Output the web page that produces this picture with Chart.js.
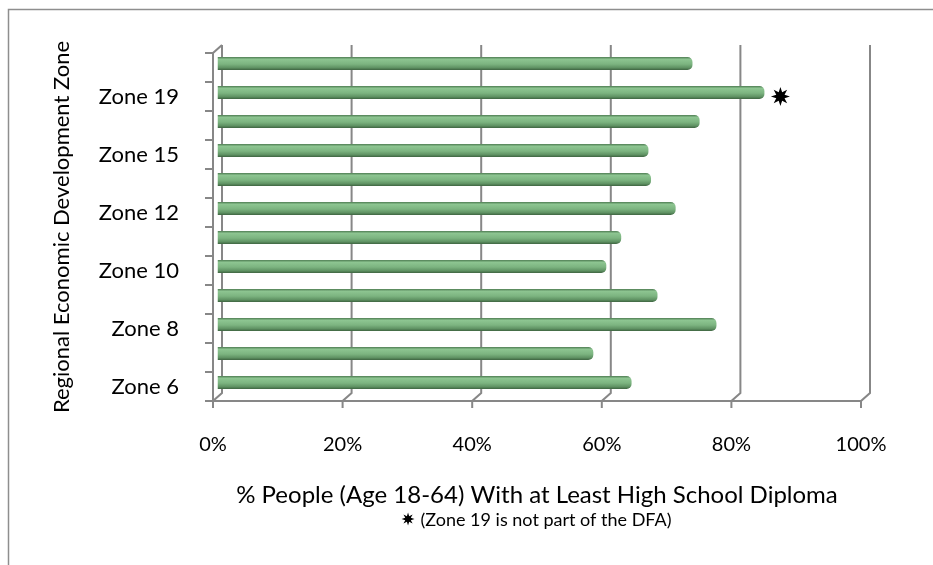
<!DOCTYPE html>
<html>
<head>
<meta charset="utf-8">
<script src="https://cdn.jsdelivr.net/npm/chart.js"></script>
<style>
  html, body { margin: 0; padding: 0; background: #fff; }
</style>
</head>
<body>
<canvas id="chart" width="933" height="565"></canvas>
<script>
// Zones listed bottom to top
const zones = ['Zone 6', 'Zone 7', 'Zone 8', 'Zone 9', 'Zone 10', 'Zone 11', 'Zone 12', 'Zone 14', 'Zone 15', 'Zone 16', 'Zone 19', 'Zone 20'];
const pctDiploma = [63.9, 58.0, 77.0, 67.9, 60.0, 62.3, 70.7, 66.9, 66.5, 74.4, 84.4, 73.3];
const xTicks = [0, 20, 40, 60, 80, 100];
const flaggedZone = 'Zone 19';
const xTitle = '% People (Age 18-64) With at Least High School Diploma';
const yTitle = 'Regional Economic Development Zone';
const footNote = '(Zone 19 is not part of the DFA)';

const FONT = 'Lato, "Liberation Sans", sans-serif';
const GRID = '#878787';
const BACK = { x: 9, y: -8 };      // back wall offset of the fake 3d box
const MID = { x: 4.5, y: -4 };     // bars sit half way in

function star(ctx, cx, cy, rOut, rIn) {
  ctx.beginPath();
  for (let i = 0; i < 16; i++) {
    const r = i % 2 ? rIn : rOut;
    const a = -Math.PI / 2 + i * Math.PI / 8;
    ctx.lineTo(cx + r * Math.cos(a), cy + r * Math.sin(a));
  }
  ctx.closePath();
  ctx.fill();
}

// walls, gridlines, axis ticks, star marks and the texts under the axis
const frame3d = {
  id: 'frame3d',
  beforeDraw(chart) {
    const { ctx } = chart;
    ctx.save();
    ctx.fillStyle = '#fff';
    ctx.fillRect(0, 0, chart.width, chart.height);
    ctx.strokeStyle = '#8e8e8e';
    ctx.lineWidth = 1.5;
    ctx.beginPath();
    ctx.moveTo(8.5, chart.height);
    ctx.lineTo(8.5, 9.5);
    ctx.lineTo(chart.width, 9.5);
    ctx.stroke();
    ctx.restore();
  },
  beforeDatasetsDraw(chart) {
    const { ctx, chartArea: a, scales: { x } } = chart;
    ctx.save();
    ctx.strokeStyle = GRID;
    ctx.lineWidth = 2;
    // back gridlines with the little slant down to the front axis
    xTicks.forEach(v => {
      const px = x.getPixelForValue(v);
      ctx.beginPath();
      ctx.moveTo(px + BACK.x, a.top + BACK.y);
      ctx.lineTo(px + BACK.x, a.bottom + BACK.y);
      ctx.lineTo(px, a.bottom);
      ctx.lineTo(px, a.bottom + 7);
      ctx.stroke();
    });
    // front left axis + top slant
    ctx.beginPath();
    ctx.moveTo(a.left + BACK.x, a.top + BACK.y);
    ctx.lineTo(a.left, a.top);
    ctx.lineTo(a.left, a.bottom);
    ctx.stroke();
    // front bottom axis
    ctx.beginPath();
    ctx.moveTo(a.left - 8, a.bottom);
    ctx.lineTo(a.right, a.bottom);
    ctx.stroke();
    // category tick marks
    const n = zones.length;
    for (let i = 0; i <= n; i++) {
      const yb = a.top + i * a.height / n;
      ctx.beginPath();
      ctx.moveTo(a.left - 8, yb);
      ctx.lineTo(a.left, yb);
      ctx.stroke();
    }
    ctx.restore();
    ctx.save();
    ctx.translate(MID.x, MID.y);
  },
  afterDatasetsDraw(chart) {
    chart.ctx.restore();
    const { ctx, chartArea: a, scales: { x, y } } = chart;
    const i = zones.indexOf(flaggedZone);
    ctx.save();
    ctx.fillStyle = '#000';
    star(ctx, x.getPixelForValue(pctDiploma[i]) + MID.x + 16, y.getPixelForValue(i), 9.5, 4.5);
    // axis title and foot note, centred under the plot
    const mid = (a.left + a.right) / 2;
    ctx.textAlign = 'center';
    ctx.textBaseline = 'middle';
    ctx.font = '24px ' + FONT;
    ctx.fillText(xTitle, mid, 495);
    ctx.font = '18px ' + FONT;
    const w = ctx.measureText(footNote).width;
    const left = mid - (w + 18) / 2;
    star(ctx, left + 5.5, 519, 6.5, 3);
    ctx.textAlign = 'left';
    ctx.fillText(footNote, left + 18, 520);
    ctx.restore();
  }
};

function barFill(c) {
  const chart = c.chart;
  if (!chart.chartArea || c.dataIndex === undefined) return '#7ab27e';
  const yc = chart.scales.y.getPixelForValue(c.dataIndex);
  const g = chart.ctx.createLinearGradient(0, yc - 6, 0, yc + 6);
  g.addColorStop(0, '#5c8c60');
  g.addColorStop(0.15, '#8dc591');
  g.addColorStop(0.55, '#7cb480');
  g.addColorStop(0.85, '#5f9263');
  g.addColorStop(1, '#456e48');
  return g;
}

new Chart(document.getElementById('chart'), {
  type: 'bar',
  data: {
    labels: zones,
    datasets: [{
      label: xTitle,
      data: pctDiploma,
      backgroundColor: barFill,
      borderWidth: 0,
      borderRadius: 5,
      borderSkipped: 'start',
      barPercentage: 0.44,
      categoryPercentage: 1
    }]
  },
  options: {
    indexAxis: 'y',
    responsive: false,
    animation: false,
    devicePixelRatio: 1,
    layout: { padding: { top: 53, right: 72, bottom: 0, left: 0 } },
    plugins: { legend: { display: false }, tooltip: { enabled: false } },
    scales: {
      x: {
        min: 0,
        max: 100,
        afterBuildTicks: s => { s.ticks = xTicks.map(v => ({ value: v })); },
        afterFit: s => { s.height = 164; },
        grid: { display: false },
        border: { display: false },
        ticks: {
          padding: 24,
          color: '#000',
          font: { family: FONT, size: 20 },
          callback: v => v + '%'
        }
      },
      y: {
        reverse: true,
        afterFit: s => { s.width = 213; },
        grid: { display: false },
        border: { display: false },
        ticks: {
          autoSkip: false,
          padding: 26,
          color: '#000',
          font: { family: FONT, size: 22 },
          callback: (v, i) => (i % 2 === 0 ? zones[i] : '')
        },
        title: {
          display: true,
          text: yTitle,
          color: '#000',
          font: { family: FONT, size: 22 },
          padding: { top: 49, bottom: 0 }
        }
      }
    }
  },
  plugins: [frame3d]
});
</script>
</body>
</html>
